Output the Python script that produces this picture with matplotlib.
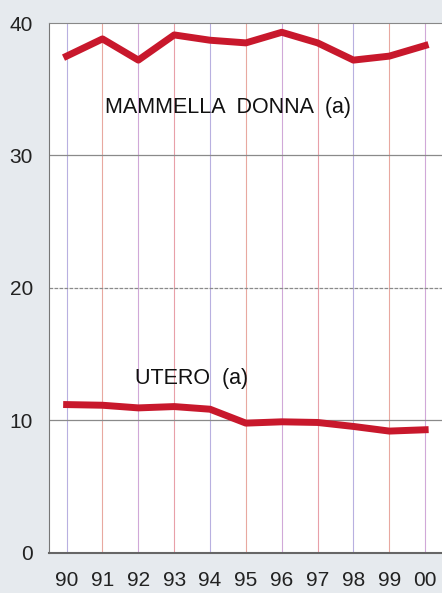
import numpy as np
import matplotlib
matplotlib.use('Agg')
import matplotlib.pyplot as plt

plt.rcParams['font.family'] = ['Liberation Sans', 'DejaVu Sans']

# anni 1990-2000
anni = ['90', '91', '92', '93', '94', '95', '96', '97', '98', '99', '00']
# mortalita'
mammella = [37.5, 38.8, 37.2, 39.1, 38.7, 38.5, 39.3, 38.5, 37.2, 37.5, 38.3]
utero = [11.2, 11.15, 10.95, 11.05, 10.85, 9.8, 9.9, 9.85, 9.55, 9.2, 9.3]
yticks = [0, 10, 20, 30, 40]

x = np.arange(len(anni))

fig = plt.figure(figsize=(4.42, 5.93), dpi=100)
fig.patch.set_facecolor('#e6eaee')
ax = fig.add_axes([0.111, 0.0675, 0.889, 0.8937])
ax.set_facecolor('white')

# griglia verticale colorata
vcols = ['#b8b0e0', '#e8a8a0', '#d0a8d8', '#e8a0a8']
for i in x:
    ax.axvline(i, color=vcols[i % len(vcols)], lw=0.8, zorder=1)
for yv in [10, 20, 30]:
    ax.axhline(yv, color='#8a8a8a', lw=0.9, ls='-' if yv != 20 else (0, (3, 1)), zorder=1)

ax.plot(x, mammella, color='#c8182c', lw=5, solid_joinstyle='round', zorder=3)
ax.plot(x, utero, color='#c8182c', lw=5, solid_joinstyle='round', zorder=3)

ax.text(1.07, 33.6, 'MAMMELLA  DONNA  (a)', fontsize=15.5, va='center', ha='left', color='#111')
ax.text(1.9, 13.2, 'UTERO  (a)', fontsize=15.5, va='center', ha='left', color='#111')

ax.set_xlim(-0.49, 10.47)
ax.set_ylim(0, 40)
ax.set_xticks(x)
ax.set_xticklabels(anni)
ax.set_yticks(yticks)
ax.tick_params(length=0, labelsize=15, colors='#222')
ax.tick_params(axis='x', pad=13)
ax.tick_params(axis='y', pad=11.5)

for s in ['right']:
    ax.spines[s].set_visible(False)
ax.spines['top'].set_color('#888')
ax.spines['left'].set_color('#777')
ax.spines['bottom'].set_color('#666')
ax.spines['bottom'].set_linewidth(1.5)

fig.savefig('out.png', dpi=100, facecolor=fig.get_facecolor())
